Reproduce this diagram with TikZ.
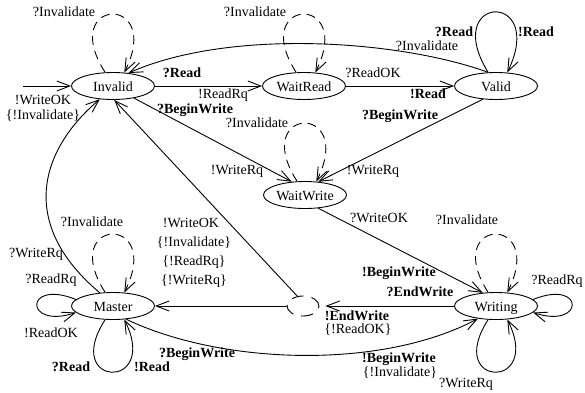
\documentclass[tikz,border=0pt]{standalone}
\usepackage{fontspec}
\setmainfont{Liberation Serif}
\usetikzlibrary{arrows.meta,shapes.geometric}
\begin{document}
\begin{tikzpicture}[x=1pt,y=-1pt,
  st/.style={ellipse,draw,line width=0.9pt,minimum width=83pt,minimum height=27pt,inner sep=0pt,
    font=\fontsize{14}{16}\selectfont,text height=11pt,text depth=0pt},
  lbl/.style={inner sep=0pt,font=\fontsize{14}{16}\selectfont,text height=9.5pt,text depth=0pt},
  blbl/.style={lbl,font=\fontsize{14}{16}\selectfont\bfseries},
  tr/.style={draw,line width=0.9pt,-{Straight Barb[length=13pt,width=10pt]}},
  dtr/.style={tr,dash pattern=on 9pt off 6pt},
  choicest/.style={ellipse,draw,line width=0.9pt,dash pattern=on 12pt off 8pt,minimum width=32pt,minimum height=20pt,inner sep=0pt},
]
\useasboundingbox (0,0) rectangle (585,392);

% states
\node[st] (inv) at (113,86) {Invalid};
\node[st] (wr) at (304,86) {WaitRead};
\node[st] (val) at (496,86) {Valid};
\node[st] (ww) at (305,195) {WaitWrite};
\node[st] (mas) at (113,306) {Master};
\node[st] (wri) at (496,306) {Writing};
\node[choicest] (ch) at (303,306) {};
\coordinate (init) at (23,86);

% straight transitions
\draw[tr] (init) -- (inv.west);
\draw[tr] (inv) -- (wr);
\draw[tr] (wr) -- (val);
\draw[tr] (inv.-30) -- (ww.135);
\draw[tr] (val.225) -- (ww.45);
\draw[tr] (ww.-45) -- (wri.135);
\draw[tr,shorten >=6pt] (wri.west) -- (ch.east);
\draw[tr] (ch.west) -- (mas.east);
\draw[tr] (ch.120) -- (inv.-85);

% curved transitions
\draw[tr] (val.120) .. controls +(-88,-32) and +(102,-45) .. (inv.40);
\draw[tr] (mas.135) .. controls +(-82,-69) and +(-60,51) .. (inv.-135);
\draw[tr] (mas.-45) .. controls +(94,45) and +(-98,52) .. (wri.-145);

% self loops (top)
\draw[dtr] (inv.120) .. controls +(-48,-75) and +(40,-80) .. (inv.50);
\draw[dtr] (wr.120) .. controls +(-48,-75) and +(40,-80) .. (wr.50);
\draw[dtr] (ww.120) .. controls +(-48,-75) and +(40,-80) .. (ww.50);
\draw[dtr] (mas.120) .. controls +(-48,-75) and +(40,-80) .. (mas.50);
\draw[dtr] (wri.120) .. controls +(-48,-75) and +(40,-80) .. (wri.50);
\draw[tr] (val.120) .. controls +(-48,-78) and +(40,-83) .. (val.50);

% self loops (bottom)
\draw[tr] (mas.-120) .. controls +(-44,68) and +(36,72) .. (mas.-50);
\draw[tr] (wri.-120) .. controls +(-44,68) and +(36,72) .. (wri.-50);

% self loops (side)
\draw[tr] (mas.170) .. controls +(-52,-21) and +(-52,17) .. (mas.190);
\draw[tr] (wri.10) .. controls +(52,-21) and +(52,17) .. (wri.-10);

% labels
\node[lbl] (t1) at (64,12) {?Invalidate};
\node[lbl] (t2) at (255,12) {?Invalidate};
\node[lbl] (t3) at (257,123) {?Invalidate};
\node[lbl] (t4) at (92,222) {?Invalidate};
\node[lbl] (t5) at (467,220) {?Invalidate};
\node[lbl] (t6) at (427,46) {?Invalidate};
\node[blbl] (t7) at (182,73) {?Read};
\node[lbl] (t8) at (223,94) {!ReadRq};
\node[blbl] (t9) at (195,109) {?BeginWrite};
\node[lbl] (t10) at (237,170) {!WriteRq};
\node[lbl] (t11) at (373,73) {?ReadOK};
\node[blbl] (t12) at (428,94) {!Read};
\node[blbl] (t13) at (454,32) {?Read};
\node[blbl] (t14) at (536,32) {!Read};
\node[blbl] (t15) at (400,115) {?BeginWrite};
\node[lbl] (t16) at (373,170) {!WriteRq};
\node[lbl] (t17) at (379,218) {?WriteOK};
\node[blbl] (t18) at (399,272) {!BeginWrite};
\node[lbl] (t19) at (557,280) {?ReadRq};
\node[lbl] (t20) at (466,383) {?WriteRq};
\node[blbl] (t21) at (420,292) {?EndWrite};
\node[blbl] (t22) at (357,316) {!EndWrite};
\node[lbl] (t23) at (358,329) {\{!ReadOK\}};
\node[blbl] (t24) at (197,353) {?BeginWrite};
\node[blbl] (t25) at (399,358) {!BeginWrite};
\node[lbl] (t26) at (400,372) {\{!Invalidate\}};
\node[blbl] (t27) at (71,367) {?Read};
\node[blbl] (t28) at (152,367) {!Read};
\node[lbl] (t29) at (51,279) {?ReadRq};
\node[lbl] (t30) at (51,333) {!ReadOK};
\node[lbl] (t31) at (36,253) {?WriteRq};
\node[lbl] (t32) at (43,100) {!WriteOK};
\node[lbl] (t33) at (43,115) {\{!Invalidate\}};
\node[lbl] (t34) at (191,223) {!WriteOK};
\node[lbl] (t35) at (194,242) {\{!Invalidate\}};
\node[lbl] (t36) at (194,261) {\{!ReadRq\}};
\node[lbl] (t37) at (194,280) {\{!WriteRq\}};
\end{tikzpicture}
\end{document}
